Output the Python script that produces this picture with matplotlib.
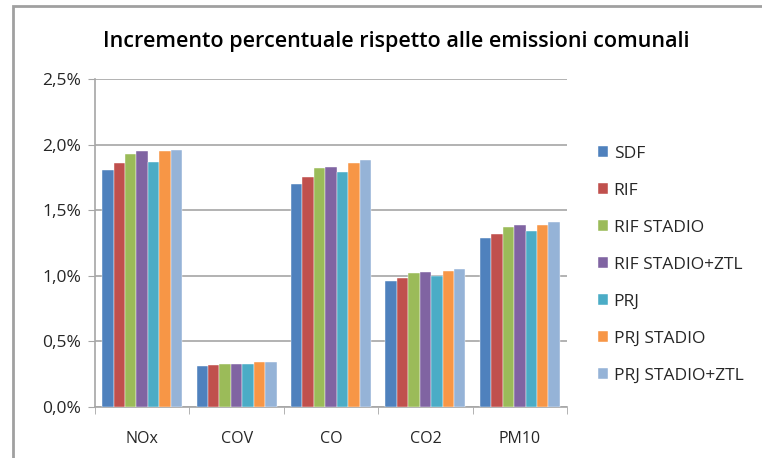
import matplotlib.pyplot as plt
import numpy as np
from matplotlib.patches import Rectangle
from matplotlib.ticker import FuncFormatter, FixedLocator

categories = ["NOx", "COV", "CO", "CO2", "PM10"]
series_names = ["SDF", "RIF", "RIF STADIO", "RIF STADIO+ZTL",
                "PRJ", "PRJ STADIO", "PRJ STADIO+ZTL"]

# values in percent, one list per scenario (NOx, COV, CO, CO2, PM10)
sdf = [1.81, 0.31, 1.70, 0.96, 1.29]
rif = [1.86, 0.32, 1.75, 0.98, 1.32]
rif_stadio = [1.93, 0.33, 1.82, 1.02, 1.37]
rif_stadio_ztl = [1.95, 0.33, 1.83, 1.03, 1.39]
prj = [1.87, 0.33, 1.79, 1.00, 1.34]
prj_stadio = [1.95, 0.345, 1.86, 1.04, 1.39]
prj_stadio_ztl = [1.96, 0.345, 1.88, 1.05, 1.41]

series = [sdf, rif, rif_stadio, rif_stadio_ztl, prj, prj_stadio, prj_stadio_ztl]
colors = ["#4F81BD", "#C0504D", "#9BBB59", "#8064A2",
          "#4BACC6", "#F79646", "#95B3D7"]

y_ticks = [0.0, 0.5, 1.0, 1.5, 2.0, 2.5]

plt.rcParams["font.family"] = ["Open Sans", "DejaVu Sans"]

fig = plt.figure(figsize=(7.62, 4.58), dpi=100)
# outer chart frame (only top and left edges fall inside the picture)
fig.patches.append(Rectangle((13 / 762, -0.05), 1.2, 1 - 6 / 458 + 0.05,
                             transform=fig.transFigure, fill=False,
                             edgecolor="#A0A0A0", linewidth=2.0))

ax = fig.add_axes([95 / 762, 51 / 458, 472 / 762, 328 / 458])

x = np.arange(len(categories))
bar_w = 0.121
n = len(series)
for i, (vals, col, name) in enumerate(zip(series, colors, series_names)):
    offs = (i - (n - 1) / 2) * bar_w
    ax.bar(x + offs, vals, width=bar_w, color=col, label=name,
           edgecolor="#FFFFFF", linewidth=0.3, zorder=3)

ax.set_xlim(-0.5, len(categories) - 0.5)
ax.set_ylim(0, 2.5)
ax.yaxis.set_major_locator(FixedLocator(y_ticks))
ax.yaxis.set_major_formatter(FuncFormatter(lambda v, p: f"{v:.1f}%".replace(".", ",")))
ax.grid(axis="y", color="#A6A6A6", linewidth=1.2, zorder=0)

ax.set_xticks(x)
ax.set_xticklabels(categories, fontsize=11.5, color="#262626")
ax.set_xticks(np.arange(-0.5, len(categories)), minor=True)
ax.tick_params(axis="x", which="major", length=0, pad=17)
ax.tick_params(axis="x", which="minor", length=5, color="#A6A6A6")
ax.tick_params(axis="y", length=5, color="#A6A6A6", labelsize=12.5,
               labelcolor="#262626", pad=5)

for side in ["top", "right"]:
    ax.spines[side].set_visible(False)
for side in ["left", "bottom"]:
    ax.spines[side].set_color("#A6A6A6")
    ax.spines[side].set_linewidth(1.2)

fig.text(103 / 762, 1 - 47 / 458, "Incremento percentuale rispetto alle emissioni comunali",
         ha="left", va="baseline", fontsize=15.5, fontweight="semibold")

ax.legend(loc="upper left", bbox_to_anchor=(598 / 762, 1 - 146 / 458),
          bbox_transform=fig.transFigure, frameon=False, fontsize=12.5,
          handlelength=0.6, handleheight=0.6, handletextpad=0.3,
          labelspacing=1.21, borderaxespad=0, borderpad=0,
          labelcolor="#262626")

fig.savefig("out.png", dpi=100)
